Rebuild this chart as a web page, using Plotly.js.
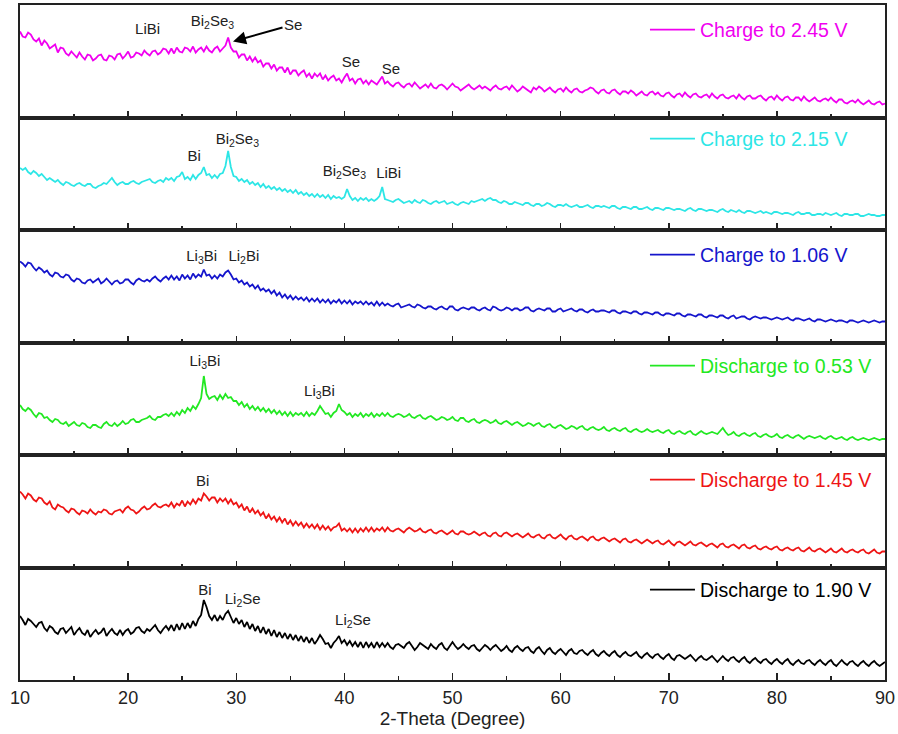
<!DOCTYPE html>
<html>
<head>
<meta charset="utf-8">
<script src="https://cdn.plot.ly/plotly-3.0.1.min.js"></script>
<style>html,body{margin:0;padding:0;background:#fff;}#chart{width:898px;height:734px;}</style>
</head>
<body>
<div id="chart"></div>
<script>
// 2-theta grid (degrees), 0.25 degree step
const twoTheta = [
10,10.25,10.5,10.75,11,11.25,11.5,11.75,
12,12.25,12.5,12.75,13,13.25,13.5,13.75,
14,14.25,14.5,14.75,15,15.25,15.5,15.75,
16,16.25,16.5,16.75,17,17.25,17.5,17.75,
18,18.25,18.5,18.75,19,19.25,19.5,19.75,
20,20.25,20.5,20.75,21,21.25,21.5,21.75,
22,22.25,22.5,22.75,23,23.25,23.5,23.75,
24,24.25,24.5,24.75,25,25.25,25.5,25.75,
26,26.25,26.5,26.75,27,27.25,27.5,27.75,
28,28.25,28.5,28.75,29,29.25,29.5,29.75,
30,30.25,30.5,30.75,31,31.25,31.5,31.75,
32,32.25,32.5,32.75,33,33.25,33.5,33.75,
34,34.25,34.5,34.75,35,35.25,35.5,35.75,
36,36.25,36.5,36.75,37,37.25,37.5,37.75,
38,38.25,38.5,38.75,39,39.25,39.5,39.75,
40,40.25,40.5,40.75,41,41.25,41.5,41.75,
42,42.25,42.5,42.75,43,43.25,43.5,43.75,
44,44.25,44.5,44.75,45,45.25,45.5,45.75,
46,46.25,46.5,46.75,47,47.25,47.5,47.75,
48,48.25,48.5,48.75,49,49.25,49.5,49.75,
50,50.25,50.5,50.75,51,51.25,51.5,51.75,
52,52.25,52.5,52.75,53,53.25,53.5,53.75,
54,54.25,54.5,54.75,55,55.25,55.5,55.75,
56,56.25,56.5,56.75,57,57.25,57.5,57.75,
58,58.25,58.5,58.75,59,59.25,59.5,59.75,
60,60.25,60.5,60.75,61,61.25,61.5,61.75,
62,62.25,62.5,62.75,63,63.25,63.5,63.75,
64,64.25,64.5,64.75,65,65.25,65.5,65.75,
66,66.25,66.5,66.75,67,67.25,67.5,67.75,
68,68.25,68.5,68.75,69,69.25,69.5,69.75,
70,70.25,70.5,70.75,71,71.25,71.5,71.75,
72,72.25,72.5,72.75,73,73.25,73.5,73.75,
74,74.25,74.5,74.75,75,75.25,75.5,75.75,
76,76.25,76.5,76.75,77,77.25,77.5,77.75,
78,78.25,78.5,78.75,79,79.25,79.5,79.75,
80,80.25,80.5,80.75,81,81.25,81.5,81.75,
82,82.25,82.5,82.75,83,83.25,83.5,83.75,
84,84.25,84.5,84.75,85,85.25,85.5,85.75,
86,86.25,86.5,86.75,87,87.25,87.5,87.75,
88,88.25,88.5,88.75,89,89.25,89.5,89.75,
90
];

// Intensities (a.u.; each pattern is drawn in its own panel)
const charge245 = [
86,81,80,85,83,78,76,79,
72,77,74,69,71,73,65,70,
69,64,62,66,63,60,65,61,
58,63,62,57,59,62,63,58,
57,62,61,58,63,64,59,62,
66,60,61,65,64,62,67,64,
62,66,67,63,65,69,68,64,
69,64,70,66,65,70,69,66,
71,65,68,70,66,71,67,65,
69,71,66,69,72,80,70,66,
66,60,63,63,57,61,56,60,
55,57,51,54,54,49,53,47,
50,50,45,50,43,47,47,42,
45,47,41,44,39,44,41,44,
38,42,37,40,42,37,39,35,
40,44,37,39,34,38,39,34,
37,33,37,35,33,37,41,34,
36,33,31,34,35,32,30,33,
34,31,35,32,29,31,33,30,
34,30,29,32,33,31,28,31,
34,31,30,27,29,31,33,30,
28,30,32,29,31,29,27,30,
32,29,28,30,31,28,32,29,
26,28,31,29,27,25,30,28,
31,29,26,28,30,27,25,28,
29,26,30,27,25,28,29,26,
25,27,28,30,29,26,24,27,
28,25,24,27,28,25,23,26,
26,24,27,25,22,24,26,23,
22,25,26,23,25,22,21,24,
25,22,20,23,24,21,25,22,
20,23,24,21,20,22,23,20,
24,21,19,22,23,20,19,21,
22,19,23,20,18,21,22,19,
19,21,22,19,17,20,21,18,
22,19,17,20,21,18,17,20,
20,17,21,18,16,18,20,17,
16,18,19,17,20,17,15,18,
18,15,14,16,17,15,18,15,
13,15,17,14,13,15,16,13,
14
];
const charge215 = [
62,60,62,58,56,59,57,54,
56,53,50,52,50,48,50,47,
45,48,47,45,44,46,47,45,
44,46,46,43,42,44,45,47,
46,49,52,48,45,47,48,46,
46,48,49,47,46,48,49,50,
51,48,47,49,50,48,52,50,
52,49,53,54,58,51,53,50,
55,51,55,57,63,55,56,52,
55,52,56,57,64,79,63,54,
53,49,51,48,50,46,48,45,
47,43,46,42,44,41,43,40,
42,39,41,38,40,37,40,36,
38,35,37,34,36,33,36,33,
35,32,35,31,34,32,33,31,
33,41,34,30,32,29,32,30,
32,29,31,29,31,34,43,31,
30,29,28,30,31,29,27,28,
29,27,30,28,27,30,29,27,
26,28,29,27,28,29,26,27,
28,26,25,27,28,27,26,29,
28,29,30,31,29,31,32,30,
30,28,27,29,28,26,26,28,
27,26,25,27,27,25,24,26,
26,24,25,27,26,24,23,25,
25,24,26,24,23,24,25,23,
23,24,25,23,22,24,24,23,
24,23,22,24,24,22,21,23,
23,22,21,23,23,21,21,22,
23,21,20,22,22,21,20,22,
22,21,20,21,21,20,19,21,
22,20,19,21,21,20,19,20,
20,19,18,20,21,19,18,20,
19,18,20,18,17,19,19,18,
17,18,19,17,18,17,16,18,
18,17,16,17,17,16,15,17,
18,16,16,17,17,15,15,16,
16,15,17,16,15,16,17,15,
14,16,16,15,15,16,16,14,
14,15,16,15,15,14,14,15,
15
];
const charge106 = [
81,79,76,80,79,75,72,75,
73,70,72,68,66,70,69,66,
65,68,67,63,61,64,63,60,
59,62,63,60,62,64,59,61,
64,61,58,61,62,59,60,63,
63,60,58,62,64,62,61,63,
61,64,66,63,61,64,66,63,
67,63,66,62,68,64,67,63,
69,65,68,66,73,67,68,64,
67,64,68,66,70,72,68,63,
64,60,62,58,60,56,58,54,
57,52,54,51,53,49,52,47,
50,45,48,44,47,43,46,43,
45,42,45,41,44,41,44,40,
43,40,43,39,42,40,43,39,
42,39,42,38,41,39,41,38,
41,38,40,37,41,37,40,37,
39,37,36,38,39,35,36,37,
38,36,35,38,37,35,34,36,
36,34,33,35,36,34,33,36,
36,33,32,34,35,34,33,35,
35,33,32,34,35,33,32,36,
35,33,32,33,35,34,32,34,
34,32,33,35,35,32,31,33,
34,33,32,34,34,31,31,33,
34,31,32,33,34,32,31,33,
33,31,30,32,33,31,31,32,
32,31,30,32,32,30,29,31,
31,30,29,31,31,29,28,30,
30,29,28,30,30,28,27,29,
29,28,27,29,29,27,26,28,
28,27,26,28,28,26,25,27,
27,26,25,27,27,25,24,26,
27,24,25,26,26,24,23,25,
26,25,24,25,25,24,23,24,
25,24,23,24,25,23,22,24,
24,23,22,23,24,22,21,23,
23,22,21,22,23,22,21,22,
22,21,20,22,22,21,20,21,
22,21,20,21,22,21,20,21,
21
];
const discharge053 = [
50,46,44,47,45,41,38,42,
41,37,38,35,33,36,35,32,
31,33,29,31,33,30,29,32,
31,28,27,30,30,28,27,31,
33,30,29,32,29,31,34,31,
32,35,36,33,33,35,36,37,
39,36,35,38,38,40,41,39,
42,39,43,40,45,42,47,44,
49,46,51,57,79,61,56,58,
59,55,60,56,61,57,58,54,
54,50,53,48,51,46,49,45,
48,44,47,43,46,42,45,41,
44,40,43,39,43,39,42,40,
42,39,43,39,42,40,44,49,
45,41,42,38,42,44,51,45,
43,40,42,38,41,39,42,38,
41,39,42,38,41,39,42,39,
42,39,38,40,41,40,38,39,
41,38,37,39,40,37,36,38,
39,37,35,36,38,37,35,36,
38,35,34,37,37,34,33,35,
36,33,32,34,35,34,32,33,
35,32,31,33,34,32,30,32,
33,31,29,30,32,31,29,31,
32,29,28,30,31,28,27,29,
30,28,26,27,29,28,26,28,
29,26,25,27,28,26,25,26,
28,25,24,26,27,25,24,26,
27,24,23,25,26,24,23,24,
26,24,23,24,25,23,22,24,
25,22,21,23,24,22,21,23,
24,21,20,22,24,22,21,22,
23,22,21,24,27,23,20,21,
23,20,19,21,22,20,19,21,
22,19,18,20,21,19,18,19,
21,18,17,19,20,18,17,19,
20,18,16,18,19,18,17,18,
19,17,16,18,19,17,16,17,
18,16,15,17,18,16,15,16,
17,16,15,16,17,16,15,16,
16
];
const discharge145 = [
76,73,69,74,72,68,66,70,
69,65,63,66,60,58,63,61,
60,57,55,59,58,55,53,57,
56,54,58,55,53,56,55,58,
57,54,53,56,57,58,55,59,
61,58,57,54,56,59,61,58,
59,62,64,61,60,62,63,61,
65,60,64,62,67,61,66,63,
68,64,69,67,74,71,67,70,
70,65,69,66,69,64,68,63,
65,60,63,57,61,55,59,54,
57,52,55,49,53,48,51,46,
50,45,49,43,47,42,46,42,
45,40,44,40,43,39,43,38,
42,38,41,37,40,41,44,37,
39,36,39,35,39,35,39,36,
40,36,40,36,39,37,40,36,
40,37,36,38,39,37,35,38,
40,38,36,37,39,36,35,37,
38,35,34,36,37,35,33,35,
37,34,33,36,36,34,33,34,
36,34,32,34,35,32,31,34,
35,32,31,34,35,33,31,33,
34,32,30,32,34,31,30,32,
33,30,29,32,33,30,29,31,
33,30,28,31,32,29,28,30,
31,29,27,30,31,28,27,29,
30,28,26,28,29,27,25,28,
29,26,25,27,28,26,24,26,
28,26,24,26,27,24,23,25,
27,24,22,25,26,24,22,24,
26,23,22,24,25,23,21,23,
24,22,20,23,24,21,20,22,
23,21,19,22,23,20,19,21,
22,19,18,20,21,19,18,20,
21,18,17,19,20,18,17,19,
20,17,16,18,20,17,16,18,
19,17,15,17,19,16,15,17,
19,16,15,17,18,16,15,17,
18,15,14,16,18,15,14,16,
16
];
const discharge190 = [
64,60,55,61,59,56,53,57,
58,52,49,54,52,48,46,51,
52,47,50,53,45,49,52,47,
45,50,43,47,50,46,48,52,
44,48,51,47,45,50,45,49,
51,46,48,52,53,49,47,51,
49,52,55,50,47,51,54,50,
55,49,56,50,57,51,57,52,
59,54,61,65,80,73,64,60,
65,59,64,60,66,69,63,57,
62,56,60,53,58,51,56,49,
54,47,53,46,51,44,50,43,
48,42,47,41,46,40,45,39,
44,38,43,37,42,36,40,45,
41,36,37,32,37,40,44,37,
40,35,39,34,38,33,38,32,
38,33,37,32,38,33,37,33,
37,33,31,35,36,34,32,36,
38,34,30,33,37,35,33,31,
36,33,31,35,37,32,30,34,
38,34,31,33,36,33,31,34,
35,31,29,32,35,33,30,33,
35,32,29,31,34,30,28,32,
34,31,29,32,33,29,27,31,
33,29,26,30,32,28,26,29,
31,28,25,29,31,27,26,29,
30,27,25,28,30,26,24,27,
29,26,24,27,29,25,23,26,
28,25,24,26,28,24,22,25,
27,24,22,25,26,23,21,24,
26,22,20,24,25,23,21,23,
25,22,19,22,24,21,20,22,
24,21,18,21,24,21,19,22,
23,20,18,21,23,19,17,20,
22,19,17,20,21,18,16,19,
21,18,16,19,21,17,15,18,
20,17,16,19,20,17,15,18,
20,17,15,18,20,16,14,17,
20,17,15,18,19,16,14,17,
19,16,14,17,19,16,14,16,
18
];

// Series names (top panel first) and colours
const seriesNames = ['Charge to 2.45 V','Charge to 2.15 V','Charge to 1.06 V','Discharge to 0.53 V','Discharge to 1.45 V','Discharge to 1.90 V'];
const seriesData = [charge245, charge215, charge106, discharge053, discharge145, discharge190];
const seriesColors = ['#f000f0','#2de6e6','#1515cc','#22e822','#ee1515','#000000'];

// Phase labels per panel (top panel first)
const labelText = [
  ['LiBi','Bi<sub>2</sub>Se<sub>3</sub>','Se','Se'],
  ['Bi','Bi<sub>2</sub>Se<sub>3</sub>','Bi<sub>2</sub>Se<sub>3</sub>','LiBi'],
  ['Li<sub>3</sub>Bi','Li<sub>2</sub>Bi'],
  ['Li<sub>3</sub>Bi','Li<sub>3</sub>Bi'],
  ['Bi'],
  ['Bi','Li<sub>2</sub>Se','Li<sub>2</sub>Se']
];
const labelTheta = [
  [21.8, 27.8, 40.6, 44.3],
  [26.1, 30.1, 40.0, 44.1],
  [26.8, 30.7],
  [27.1, 37.7],
  [26.9],
  [27.1, 30.6, 40.8]
];
const labelIntensity = [
  [87, 95, 54, 47],
  [73, 90, 58, 56],
  [85, 85],
  [93, 63],
  [85],
  [89, 80, 59]
];
const arrowLabel = ['Se', 29.7, 76];

const FONT = 'Liberation Sans, Arial, Helvetica, sans-serif';
const N = 6;
const traces = [];
const legendY = [0.963, 0.8015, 0.6296, 0.4652, 0.2963, 0.1333];
const layout = {
  width: 898, height: 734,
  margin: {l: 20, r: 13, t: 5, b: 54},
  paper_bgcolor: '#ffffff', plot_bgcolor: '#ffffff',
  showlegend: true,
  font: {family: FONT, size: 15, color: '#222222'},
  annotations: []
};

for (let i = 0; i < N; i++) {
  const n = N - i; // axis number, 1 = bottom panel
  const xa = n === 1 ? 'x' : 'x' + n;
  const ya = n === 1 ? 'y' : 'y' + n;
  const legId = i === 0 ? 'legend' : 'legend' + (i + 1);
  traces.push({
    type: 'scatter', mode: 'lines', x: twoTheta, y: seriesData[i],
    xaxis: xa, yaxis: ya, name: seriesNames[i], legend: legId,
    line: {color: seriesColors[i], width: 1.8, simplify: false}, hoverinfo: 'x+y+name'
  });
  traces.push({
    type: 'scatter', mode: 'text', x: labelTheta[i], y: labelIntensity[i], text: labelText[i],
    textposition: 'middle center', textfont: {family: FONT, size: 15, color: '#222222'},
    xaxis: xa, yaxis: ya, showlegend: false, hoverinfo: 'skip', cliponaxis: false
  });
  layout[legId] = {
    x: 0.7225, xanchor: 'left', y: legendY[i], yanchor: 'middle',
    bgcolor: 'rgba(0,0,0,0)', borderwidth: 0, itemwidth: 45,
    font: {family: FONT, size: 19.5, color: seriesColors[i]}
  };
  const xKey = n === 1 ? 'xaxis' : 'xaxis' + n;
  const yKey = n === 1 ? 'yaxis' : 'yaxis' + n;
  layout[xKey] = {
    anchor: ya, domain: [0, 1], range: [10, 90],
    showline: true, linecolor: '#222222', linewidth: 2, mirror: true,
    ticks: 'inside', ticklen: 7, tickwidth: 1.5, tickcolor: '#222222',
    tick0: 10, dtick: 10,
    minor: {ticks: 'inside', ticklen: 4, tickwidth: 1.5, tickcolor: '#222222', dtick: 5},
    showgrid: false, zeroline: false,
    showticklabels: n === 1,
    tickfont: {family: FONT, size: 18, color: '#222222'}
  };
  if (n > 1) layout[xKey].matches = 'x';
  if (n === 1) {
    layout[xKey].title = {text: '2-Theta (Degree)', font: {family: FONT, size: 19, color: '#222222'}, standoff: 2};
  }
  layout[yKey] = {
    anchor: xa, domain: [(n - 1) / N, n / N], range: [0, 112.5],
    showline: true, linecolor: '#222222', linewidth: 2, mirror: true,
    ticks: '', showticklabels: false, showgrid: false, zeroline: false
  };
  if (i === 0) {
    layout.annotations.push({xref: xa, yref: ya, x: arrowLabel[1], y: arrowLabel[2], text: arrowLabel[0],
      showarrow: true, arrowhead: 2, arrowsize: 1.3, arrowwidth: 2, arrowcolor: '#000000',
      ax: 60, ay: -17, standoff: 0, font: {family: FONT, size: 15, color: '#222222'}});
  }
}

Plotly.newPlot('chart', traces, layout, {displayModeBar: false, staticPlot: true});
</script>
</body>
</html>
